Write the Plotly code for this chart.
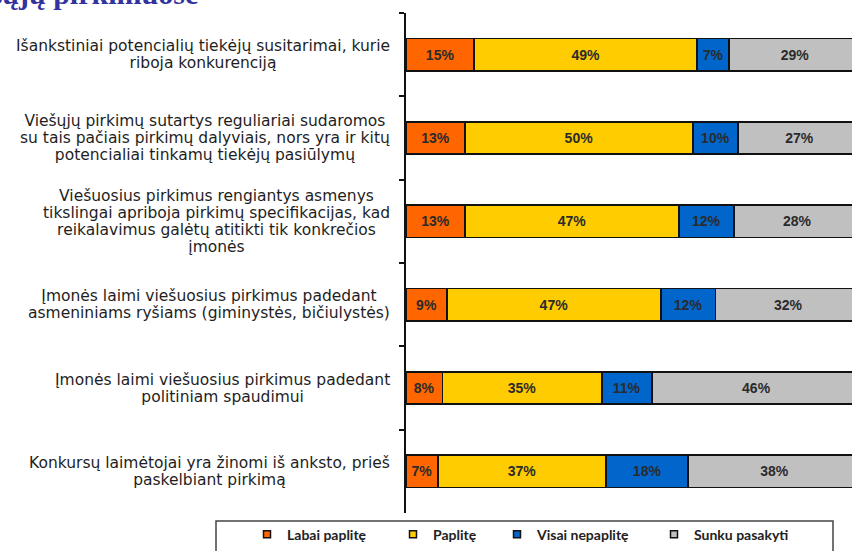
import plotly.graph_objects as go

categories = [
    "Išankstiniai potencialių tiekėjų susitarimai, kurie<br>riboja konkurenciją",
    "Viešųjų pirkimų sutartys reguliariai sudaromos<br>su tais pačiais pirkimų dalyviais, nors yra ir kitų<br>potencialiai tinkamų tiekėjų pasiūlymų",
    "Viešuosius pirkimus rengiantys asmenys<br>tikslingai apriboja pirkimų specifikacijas, kad<br>reikalavimus galėtų atitikti tik konkrečios<br>įmonės",
    "Įmonės laimi viešuosius pirkimus padedant<br>asmeniniams ryšiams (giminystės, bičiulystės)",
    "Įmonės laimi viešuosius pirkimus padedant<br>politiniam spaudimui",
    "Konkursų laimėtojai yra žinomi iš anksto, prieš<br>paskelbiant pirkimą",
]
series_names = ["Labai paplitę", "Paplitę", "Visai nepaplitę", "Sunku pasakyti"]
labai_paplite = [15, 13, 13, 9, 8, 7]
paplite = [49, 50, 47, 47, 35, 37]
visai_nepaplite = [7, 10, 12, 12, 11, 18]
sunku_pasakyti = [29, 27, 28, 32, 46, 38]
series_values = [labai_paplite, paplite, visai_nepaplite, sunku_pasakyti]
colors = ["#FF6600", "#FFCC00", "#0066CC", "#C0C0C0"]
title_text = "viešųjų pirkimuose"

# plot area geometry (pixels)
PL, PR, PT, PB = 406, 852, 13, 519
PW, PH = PR - PL, PB - PT


def px_x(p):
    return (p - PL) / PW


def px_y(p):
    return (PB - p) / PH


fig = go.Figure()
for name, vals, col in zip(series_names, series_values, colors):
    fig.add_trace(go.Bar(
        y=categories, x=vals, name=name, orientation="h", showlegend=False,
        marker=dict(color=col, line=dict(color="#111111", width=1.8)),
        text=[f"{v}%" for v in vals], textposition="inside",
        insidetextanchor="middle", constraintext="none",
        textfont=dict(family="Liberation Sans", size=14, color="#2b2b2b", weight="bold"),
        width=0.39,
    ))

# legend entries, one legend each so they can be placed like the reference
legend_left_px = [247, 393, 497, 654]
for i, (name, col) in enumerate(zip(series_names, colors)):
    fig.add_trace(go.Scatter(
        x=[None], y=[None], mode="markers", name=name,
        marker=dict(symbol="square", size=7, color=col, line=dict(color="#111111", width=1.5)),
        legend="legend" if i == 0 else f"legend{i + 1}", showlegend=True,
    ))

# y-axis labels as centred text blocks
for cat in categories:
    txt = "<br>".join(f"<span style='font-size:15.5px'>{ln}</span>" for ln in cat.split("<br>"))
    fig.add_annotation(
        x=0, xref="paper", y=cat, yref="y", text=txt, showarrow=False,
        xanchor="right", yanchor="middle", align="center", xshift=-14,
        font=dict(family="DejaVu Sans", size=13, color="#1e1e1e"),
    )

# partially visible title at the top
fig.add_annotation(
    x=px_x(200), xref="paper", y=px_y(12), yref="paper",
    text=title_text, showarrow=False, xanchor="right", yanchor="bottom",
    font=dict(family="Liberation Serif", size=30, color="#3333A0", weight="bold"),
)

# legend frame
fig.add_shape(type="rect", xref="paper", yref="paper",
              x0=px_x(216), x1=px_x(833), y0=px_y(527), y1=px_y(575),
              line=dict(color="#444444", width=1.5), fillcolor="rgba(0,0,0,0)")

legend_common = dict(orientation="h", xanchor="left", y=px_y(541), yanchor="middle",
                     font=dict(family="Lato", size=14, color="#222222", weight="bold"),
                     itemwidth=30, bgcolor="rgba(0,0,0,0)", borderwidth=0)
legends = {}
for i, lp in enumerate(legend_left_px):
    key = "legend" if i == 0 else f"legend{i + 1}"
    legends[key] = dict(legend_common, x=px_x(lp))

fig.update_layout(
    width=852, height=551,
    margin=dict(l=PL, r=852 - PR, t=PT, b=551 - PB),
    paper_bgcolor="white", plot_bgcolor="white",
    barmode="stack",
    showlegend=True,
    xaxis=dict(visible=False, range=[0, PW / 455 * 100], fixedrange=True),
    yaxis=dict(categoryorder="array", categoryarray=categories, autorange="reversed",
               showticklabels=False, showline=True, linecolor="#111111", linewidth=2,
               ticks="outside", ticklen=5, tickwidth=2, tickcolor="#111111",
               tickson="boundaries", showgrid=False, zeroline=False),
    **legends,
)

fig.write_html("out.html")
